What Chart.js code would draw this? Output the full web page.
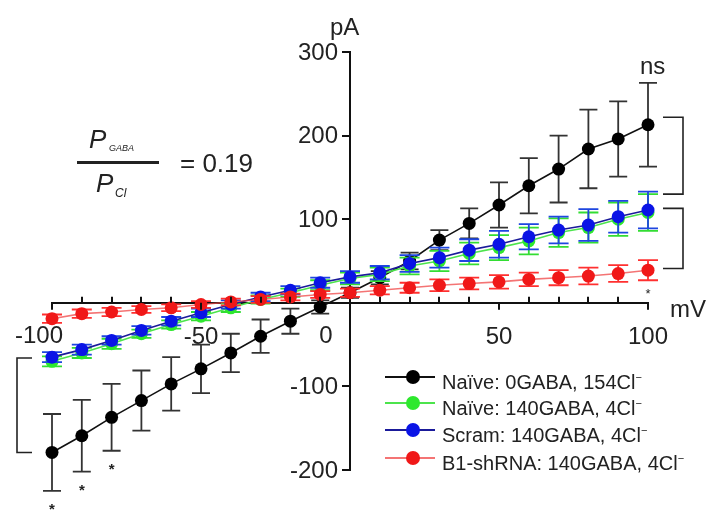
<!DOCTYPE html>
<html>
<head>
<meta charset="utf-8">
<script src="https://cdn.jsdelivr.net/npm/chart.js@4.4.1/dist/chart.umd.min.js"></script>
<style>
  body { margin: 0; background: #fff; font-family: "Liberation Sans", Arial, sans-serif; }
  #wrap { position: relative; width: 710px; height: 515px; overflow: hidden; }
  #iv { position: absolute; left: 0; top: 0; }
  .txt { position: absolute; color: #222; white-space: nowrap; line-height: 1; }
  .leg { position: absolute; left: 385px; height: 20px; width: 320px; }
  .leg .ln { position: absolute; left: 0; top: 9px; width: 50px; height: 2px; }
  .leg .dot { position: absolute; left: 21px; top: 3px; width: 14px; height: 14px; border-radius: 50%; }
  .leg .tx { position: absolute; left: 57px; top: 0; font-size: 20px; line-height: 20px; color: #222; white-space: nowrap; }
  .leg sup { font-size: 11px; }
</style>
</head>
<body>
<div id="wrap">
  <canvas id="iv" width="710" height="515"></canvas>
  <div class="txt" style="left:330px;top:15px;font-size:24px;">pA</div>
  <div class="txt" style="left:640px;top:54px;font-size:24px;">ns</div>
  <div class="txt" style="left:670px;top:297px;font-size:24px;">mV</div>
  <div class="txt" style="left:89px;top:126px;font-size:26px;font-style:italic;">P</div>
  <div class="txt" style="left:109px;top:144px;font-size:9px;font-style:italic;">GABA</div>
  <div style="position:absolute;left:77px;top:161px;width:82px;height:3px;background:#222;"></div>
  <div class="txt" style="left:96px;top:170px;font-size:26px;font-style:italic;">P</div>
  <div class="txt" style="left:115px;top:187px;font-size:12px;font-style:italic;">Cl</div>
  <div class="txt" style="left:180px;top:150px;font-size:26px;">= 0.19</div>
  <div id="legend"></div>
</div>
<script>
// membrane potential steps (mV)
var voltages = [-100, -90, -80, -70, -60, -50, -40, -30, -20, -10, 0, 10, 20, 30, 40, 50, 60, 70, 80, 90, 100];

// mean current (pA) and SEM
var naive0Mean = [-179, -159, -137, -117, -97, -79, -60, -40, -22, -5, 12, 30, 50, 75, 95, 117, 140, 160, 184, 196, 213];
var naive0Sem  = [46, 43, 40, 36, 32, 29, 23, 20, 15, 8, 6, 8, 10, 12, 18, 27, 33, 40, 47, 45, 50];

var naive140Mean = [-70, -60, -49, -37, -26, -16, -6, 4, 12, 21, 29, 34, 44, 50, 59, 66, 74, 84, 90, 100, 108];
var naive140Sem  = [6, 6, 6, 5, 5, 5, 5, 5, 5, 6, 7, 8, 10, 12, 13, 15, 16, 17, 18, 20, 22];

var scramMean = [-65, -56, -45, -33, -22, -12, -2, 7, 15, 24, 31, 36, 47, 54, 63, 70, 79, 87, 93, 103, 111];
var scramSem  = [6, 6, 5, 5, 5, 5, 5, 5, 5, 6, 7, 8, 10, 12, 13, 16, 15, 16, 19, 19, 22];

var shrnaMean = [-19, -13, -11, -8, -6, -2, 1, 4, 7, 10, 12, 15, 18, 21, 23, 25, 28, 30, 32, 35, 39];
var shrnaSem  = [5, 5, 5, 4, 4, 4, 4, 4, 4, 4, 5, 5, 6, 7, 7, 8, 8, 9, 10, 10, 12];

var seriesNames = ['Naïve: 0GABA, 154Cl', 'Naïve: 140GABA, 4Cl', 'Scram: 140GABA, 4Cl', 'B1-shRNA: 140GABA, 4Cl'];
var pointColors = ['#000000', '#2ee82e', '#0a14e6', '#f01818'];
var lineColors  = ['#111111', '#4ce44c', '#1a1a9a', 'rgba(240,70,70,0.75)'];
var errColors   = ['#333333', '#33dd33', '#1e46e0', '#ff3030'];

// tick values
var xMajor = [-100, -50, 0, 50, 100];
var yTicks = [-200, -100, 100, 200, 300];

// significance marks: voltages with * under the black trace, brackets in pA
var starVoltages = [-100, -90, -80];
var rightBrackets = [[222, 130], [113, 41]];
var leftBracket = [-66, -179];

var FONT = '"Liberation Sans", Arial, sans-serif';

function pts(means) {
  return voltages.map(function(v, i) { return { x: v, y: means[i] }; });
}

var means = [naive0Mean, naive140Mean, scramMean, shrnaMean];
var sems = [naive0Sem, naive140Sem, scramSem, shrnaSem];
var drawOrder = [3, 2, 1, 0];

var datasets = means.map(function(m, i) {
  return {
    label: seriesNames[i],
    data: pts(m),
    sem: sems[i],
    errColor: errColors[i],
    borderColor: lineColors[i],
    borderWidth: 1.6,
    pointRadius: 6.5,
    pointBorderWidth: 0,
    pointBackgroundColor: pointColors[i],
    pointHoverRadius: 6.5,
    fill: false,
    tension: 0,
    clip: false,
    order: drawOrder[i]
  };
});

var errorBars = {
  id: 'errorBars',
  beforeDatasetDraw: function(chart, args) {
    var ds = chart.data.datasets[args.index];
    if (!ds.sem) return;
    var xs = chart.scales.x, ys = chart.scales.y, ctx = chart.ctx;
    var cap = args.index === 0 ? 9 : 10;
    ctx.save();
    ctx.strokeStyle = ds.errColor;
    ctx.lineWidth = 1.8;
    ds.data.forEach(function(p, i) {
      var px = xs.getPixelForValue(p.x);
      var top = ys.getPixelForValue(p.y + ds.sem[i]);
      var bot = ys.getPixelForValue(p.y - ds.sem[i]);
      ctx.beginPath();
      ctx.moveTo(px, top); ctx.lineTo(px, bot);
      ctx.moveTo(px - cap, top); ctx.lineTo(px + cap, top);
      ctx.moveTo(px - cap, bot); ctx.lineTo(px + cap, bot);
      ctx.stroke();
    });
    ctx.restore();
  }
};

var axisExtras = {
  id: 'axisExtras',
  afterDraw: function(chart) {
    var xs = chart.scales.x, ys = chart.scales.y, ctx = chart.ctx;
    var x0 = xs.getPixelForValue(0), y0 = ys.getPixelForValue(0);
    ctx.save();
    ctx.strokeStyle = '#111';
    ctx.lineWidth = 2;
    ctx.beginPath();
    voltages.forEach(function(v) {
      var px = Math.round(xs.getPixelForValue(v));
      if (v === 0) return;
      if (xMajor.indexOf(v) >= 0) { ctx.moveTo(px, y0); ctx.lineTo(px, y0 + 7); }
      else { ctx.moveTo(px, y0); ctx.lineTo(px, y0 - 6); }
    });
    yTicks.forEach(function(t) {
      var py = Math.round(ys.getPixelForValue(t));
      ctx.moveTo(x0, py); ctx.lineTo(x0 - 8, py);
    });
    ctx.stroke();

    // y tick labels sit left of the crossing axis; "-100" and "0" on x are nudged left
    ctx.fillStyle = '#222';
    ctx.font = '24px ' + FONT;
    ctx.textAlign = 'right';
    ctx.textBaseline = 'middle';
    yTicks.forEach(function(t) {
      ctx.fillText(String(t), x0 - 12, ys.getPixelForValue(t) + 1);
    });
    ctx.textAlign = 'center';
    ctx.fillText('0', x0 - 24, y0 + 34);
    ctx.fillText('-100', xs.getPixelForValue(-100) - 13, y0 + 34);

    // brackets
    ctx.lineWidth = 1.6;
    ctx.strokeStyle = '#222';
    var rx = xs.right + 35;
    rightBrackets.forEach(function(b) {
      var a = ys.getPixelForValue(b[0]), c = ys.getPixelForValue(b[1]);
      ctx.beginPath();
      ctx.moveTo(rx - 20, a); ctx.lineTo(rx, a); ctx.lineTo(rx, c); ctx.lineTo(rx - 20, c);
      ctx.stroke();
    });
    var lx = xs.left - 35;
    var la = ys.getPixelForValue(leftBracket[0]), lb = ys.getPixelForValue(leftBracket[1]);
    ctx.beginPath();
    ctx.moveTo(lx + 15, la); ctx.lineTo(lx, la); ctx.lineTo(lx, lb); ctx.lineTo(lx + 15, lb);
    ctx.stroke();

    // asterisks
    ctx.font = 'bold 15px ' + FONT;
    ctx.textBaseline = 'middle';
    starVoltages.forEach(function(v) {
      var i = voltages.indexOf(v);
      var py = ys.getPixelForValue(naive0Mean[i] - naive0Sem[i]) + 19;
      ctx.fillText('*', xs.getPixelForValue(v), py);
    });
    var last = voltages.length - 1;
    ctx.font = '13px ' + FONT;
    ctx.fillText('*', xs.getPixelForValue(voltages[last]), y0 - 8);
    ctx.restore();
  }
};

new Chart(document.getElementById('iv'), {
  type: 'line',
  data: { datasets: datasets },
  options: {
    responsive: false,
    animation: false,
    layout: { padding: { left: 52, right: 62, top: 52, bottom: 45 } },
    plugins: { legend: { display: false }, tooltip: { enabled: false } },
    scales: {
      x: {
        type: 'linear',
        position: { y: 0 },
        min: -100, max: 100,
        grid: { display: false },
        border: { display: true, color: '#111', width: 2 },
        ticks: {
          stepSize: 10, autoSkip: false, maxRotation: 0, padding: 12,
          color: '#222', font: { size: 24, family: FONT },
          callback: function(v) { return (v % 50 === 0 && v !== 0 && v !== -100) ? v : ''; }
        }
      },
      y: {
        type: 'linear',
        position: { x: 0 },
        min: -200, max: 300,
        grid: { display: false },
        border: { display: true, color: '#111', width: 2 },
        ticks: {
          stepSize: 100,
          callback: function() { return ''; }
        }
      }
    }
  },
  plugins: [errorBars, axisExtras]
});

// legend built from the series lists
var legendRows = [377, 403, 430, 458];
var legendHtml = '';
seriesNames.forEach(function(name, i) {
  legendHtml += '<div class="leg" style="top:' + (legendRows[i] - 10) + 'px">' +
    '<span class="ln" style="background:' + lineColors[i] + '"></span>' +
    '<span class="dot" style="background:' + pointColors[i] + '"></span>' +
    '<span class="tx">' + name + '<sup>−</sup></span></div>';
});
document.getElementById('legend').innerHTML = legendHtml;
</script>
</body>
</html>
